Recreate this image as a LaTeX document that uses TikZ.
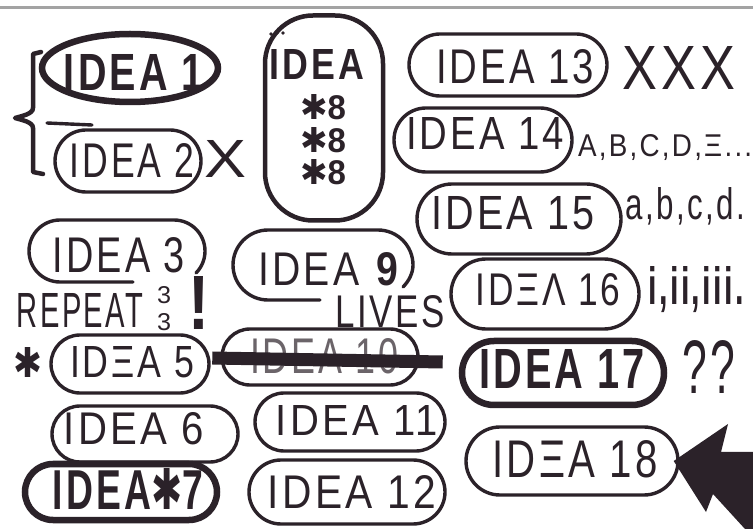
\documentclass[tikz,border=0pt]{standalone}
\usepackage{fontspec}
\setmainfont{Liberation Sans}[LetterSpace=8]
\newfontfamily\symf{DejaVu Sans}
\usetikzlibrary{shapes.geometric,shapes.misc}
\definecolor{ink}{HTML}{2B2229}
\definecolor{rulegray}{HTML}{A3A3A3}
\newcommand\fitt[3]{\resizebox{#1pt}{#2pt}{#3}}
\newcommand\astk{{\symf ✱}}
\begin{document}
\begin{tikzpicture}[x=1pt,y=-1pt,
  bub/.style={draw=ink, rounded rectangle, line width=3.4pt, inner sep=0pt},
  bubthick/.style={bub, line width=6.5pt},
  txt/.style={inner sep=0pt, text=ink, font=\fontsize{30}{30}\selectfont},
  btxt/.style={txt, font=\fontsize{30}{30}\selectfont\bfseries},
  inkline/.style={draw=ink, line width=3.4pt, line cap=round, line join=round}
]
\useasboundingbox (0,0) rectangle (753,529);
\fill[white] (0,0) rectangle (753,529);
\draw[rulegray, line width=3pt] (0,8) -- (753,8);

% IDEA 1 and 2 with bracket
\node[bubthick, ellipse, minimum width=176pt, minimum height=68pt] (b1) at (130,68) {};
\node[btxt] (t1) at (134,73) {\fitt{140}{36}{IDEA 1}};
\node[bub, minimum width=146pt, minimum height=62pt] (b2) at (128,161) {};
\node[txt] (t2) at (132,161) {\fitt{124}{34}{IDEA 2}};
\node[txt] (x2) at (226,159) {\fitt{42}{37}{X}};
\draw[inkline, line width=4.5pt] (41,52) -- (33,54) -- (33,108) .. controls (33,114) and (22,116) .. (15,118) .. controls (22,120) and (33,122) .. (33,128) -- (33,172) -- (43,174);
\draw[inkline] (47,123) -- (92,125);

% IDEA 8
\node[draw=ink, line width=4.5pt, rounded corners=48pt, minimum width=118pt, minimum height=205pt] (b8) at (324,118) {};
\fill[ink] (271,34) circle (1.8) (277,33) circle (1.8) (283,33) circle (1.8);
\node[btxt] (t8) at (317,65) {\fitt{94}{30}{IDEA}};
\node[btxt] (t8a) at (323,107) {\fitt{46}{25}{\astk8}};
\node[btxt] (t8b) at (323,140) {\fitt{46}{25}{\astk8}};
\node[btxt] (t8c) at (323,172) {\fitt{46}{25}{\astk8}};

% right column
\node[bub, minimum width=198pt, minimum height=62pt] (b13) at (508,65) {};
\node[txt] (t13) at (515,67) {\fitt{158}{34}{IDEA 13}};
\node[txt] (x13) at (679,68) {\fitt{113}{43}{XXX}};

\node[bub, minimum width=178pt, minimum height=64pt] (b14) at (483,140) {};
\node[txt] (t14) at (485,134) {\fitt{158}{32}{IDEA 14}};
\node[txt, anchor=base west] (l14) at (578,157) {\fitt{174}{22}{A,B,C,D,Ξ...}};

\node[bub, minimum width=204pt, minimum height=70pt] (b15) at (519,219) {};
\node[txt] (t15) at (513,213) {\fitt{163}{33}{IDEA 15}};
\node[txt, anchor=base west] (l15) at (625,220) {\fitt{120}{32}{a,b,c,d.}};

\node[bub, minimum width=188pt, minimum height=70pt] (b16) at (545,294) {};
\node[txt] (t16) at (548,290) {\fitt{145}{32}{IDΞΛ 16}};
\node[btxt, anchor=base west] (l16) at (648,305) {\fitt{96}{38}{i,ii,iii.}};

\node[bubthick, minimum width=202pt, minimum height=64pt] (b17) at (563,373) {};
\node[btxt] (t17) at (562,369) {\fitt{166}{39}{IDEA 17}};
\node[txt] (q17) at (709,367) {\fitt{53}{53}{??}};

\node[bub, minimum width=212pt, minimum height=68pt] (b18) at (572,461) {};
\node[txt] (t18) at (575,459) {\fitt{165}{37}{IDΞA 18}};

% big arrow to IDEA 18
\fill[ink] ([xshift=-6pt]b18.east) -- (728,424) -- (721,452) -- (753,452) -- (753,529) -- (745,529) -- (713,494) -- (706,512) -- cycle;

% IDEA 3, REPEAT
\coordinate (b3) at (117,251);
\draw[inkline] (133,282) -- (60,282) .. controls (42.9,282) and (29,268.1) .. (29,251) .. controls (29,233.9) and (42.9,220) .. (60,220) -- (174,220) .. controls (191.1,220) and (205,233.9) .. (205,251) .. controls (205,259) and (202,267) .. (196,273);
\node[txt] (t3) at (119,255) {\fitt{132}{35}{IDEA 3}};
\node[txt] (rep) at (80,310) {\fitt{126}{34}{REPEAT}};
\node[txt] (r3a) at (164,295) {\fitt{14}{17}{3}};
\node[txt] (r3b) at (164,322) {\fitt{14}{17}{3}};
\node[btxt] (excl) at (199,303) {\fitt{21}{53}{!}};

% IDEA 9, LIVES
\coordinate (b9) at (323,265);
\draw[inkline] (320,300) -- (268,300) .. controls (248.7,300) and (233,284.3) .. (233,265) .. controls (233,245.7) and (248.7,230) .. (268,230) -- (378,230) .. controls (397.3,230) and (413,245.7) .. (413,265) .. controls (413,273) and (409,281) .. (403,287);
\node[txt] (t9) at (330,269) {\fitt{143}{33}{IDEA \textbf{9}}};
\node[txt] (lives) at (390,312) {\fitt{110}{32}{LIVES}};

% IDEA 5
\node[txt] (ast5) at (28,362) {\fitt{29}{30}{\astk}};
\node[bub, minimum width=158pt, minimum height=58pt] (b5) at (130,364) {};
\node[txt] (t5) at (132,362) {\fitt{124}{31}{IDΞA 5}};

% IDEA 10 struck out
\node[bub, minimum width=196pt, minimum height=56pt] (b10) at (320,357) {};
\node[txt, text=ink!70] (t10) at (324,356) {\fitt{148}{35}{IDEA 10}};
\draw[ink, line width=13pt] ([xshift=-8pt,yshift=-1pt]b10.west) -- ([xshift=23pt,yshift=-5pt]b10.east);

% IDEA 6, 11, 7, 12
\node[bub, minimum width=186pt, minimum height=56pt] (b6) at (145,434) {};
\node[txt] (t6) at (134,429) {\fitt{140}{32}{IDEA 6}};
\node[bub, minimum width=190pt, minimum height=58pt] (b11) at (350,422) {};
\node[txt] (t11) at (357,420) {\fitt{162}{30}{IDEA 11}};
\node[bubthick, minimum width=192pt, minimum height=56pt] (b7) at (121,492) {};
\node[btxt] (t7) at (128,489) {\fitt{150}{41}{IDEA\astk7}};
\node[bub, minimum width=196pt, minimum height=64pt] (b12) at (347,492) {};
\node[txt] (t12) at (352,492) {\fitt{168}{33}{IDEA 12}};
\end{tikzpicture}
\end{document}
